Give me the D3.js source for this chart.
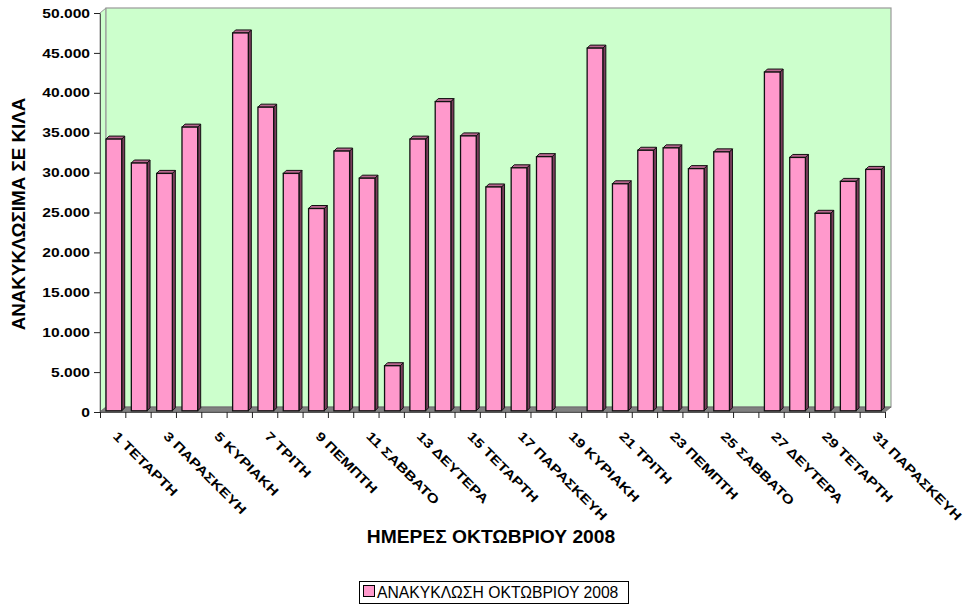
<!DOCTYPE html>
<html>
<head>
<meta charset="utf-8">
<script src="https://cdn.jsdelivr.net/npm/d3@7"></script>
<style>
  html, body { margin: 0; padding: 0; background: #fff; }
  svg { display: block; }
  text { font-family: "Liberation Sans", Arial, sans-serif; }
</style>
</head>
<body>
<svg id="chart" width="970" height="605"></svg>
<script>
// ---- DATA ----
const categories = ["1 ΤΕΤΑΡΤΗ","2 ΠΕΜΠΤΗ","3 ΠΑΡΑΣΚΕΥΗ","4 ΣΑΒΒΑΤΟ","5 ΚΥΡΙΑΚΗ","6 ΔΕΥΤΕΡΑ","7 ΤΡΙΤΗ",
  "8 ΤΕΤΑΡΤΗ","9 ΠΕΜΠΤΗ","10 ΠΑΡΑΣΚΕΥΗ","11 ΣΑΒΒΑΤΟ","12 ΚΥΡΙΑΚΗ","13 ΔΕΥΤΕΡΑ","14 ΤΡΙΤΗ",
  "15 ΤΕΤΑΡΤΗ","16 ΠΕΜΠΤΗ","17 ΠΑΡΑΣΚΕΥΗ","18 ΣΑΒΒΑΤΟ","19 ΚΥΡΙΑΚΗ","20 ΔΕΥΤΕΡΑ","21 ΤΡΙΤΗ",
  "22 ΤΕΤΑΡΤΗ","23 ΠΕΜΠΤΗ","24 ΠΑΡΑΣΚΕΥΗ","25 ΣΑΒΒΑΤΟ","26 ΚΥΡΙΑΚΗ","27 ΔΕΥΤΕΡΑ","28 ΤΡΙΤΗ",
  "29 ΤΕΤΑΡΤΗ","30 ΠΕΜΠΤΗ","31 ΠΑΡΑΣΚΕΥΗ"];
const recycling = [34200, 31200, 29900, 35700, 0, 47500, 38200, 29900, 25500, 32700, 29300, 5800,
  34200, 38900, 34600, 28200, 30600, 32000, 0, 45600, 28600, 32800, 33100, 30500, 32600, 0,
  42600, 31900, 24900, 28900, 30400];
const yTicks = [0, 5000, 10000, 15000, 20000, 25000, 30000, 35000, 40000, 45000, 50000];
const seriesName = "ΑΝΑΚΥΚΛΩΣΗ ΟΚΤΩΒΡΙΟΥ 2008";
const xTitle = "ΗΜΕΡΕΣ ΟΚΤΩΒΡΙΟΥ 2008";
const yTitle = "ΑΝΑΚΥΚΛΩΣΙΜΑ ΣΕ ΚΙΛΑ";

// ---- LAYOUT ----
const svg = d3.select("#chart");
const L = 100, R = 885, T = 13, B = 412;   // front plane
const DX = 6, DY = 5;                       // wall depth offset
const bdx = 3, bdy = 3;                     // bar depth

const x = d3.scaleBand().domain(categories).range([L, R]).padding(0);
const xLin = d3.scaleLinear().domain([0, categories.length]).range([L, R]);
const y = d3.scaleLinear().domain([0, 50000]).range([B, T]);

const locale = d3.formatLocale({decimal: ",", thousands: ".", grouping: [3], currency: ["", "€"]});
const fmt = locale.format(",d");

// walls
const wallColor = "#CCFFCC", wallStroke = "#999999";
svg.append("path")
  .attr("d", `M${L},${B} L${L},${T} L${L+DX},${T-DY} L${L+DX},${B-DY} Z`)
  .attr("fill", wallColor).attr("stroke", wallStroke).attr("stroke-width", 1);
svg.append("rect")
  .attr("x", L + DX).attr("y", T - DY)
  .attr("width", R - L).attr("height", B - T)
  .attr("fill", wallColor).attr("stroke", wallStroke).attr("stroke-width", 1.2);
svg.append("path")
  .attr("d", `M${L},${B} L${R},${B} L${R+DX},${B-DY} L${L+DX},${B-DY} Z`)
  .attr("fill", "#808080").attr("stroke", "#666").attr("stroke-width", 0.8);

// bars
const bw = x.bandwidth() * 0.62;
const bars = svg.append("g");
const data = categories.map((c, i) => ({c, v: recycling[i]})).filter(d => d.v > 0);
const bx = d => x(d.c) + (x.bandwidth() - bw) / 2 + 1.2;
const by0 = y(0) - 1.2;
bars.selectAll(".side").data(data).join("path")
  .attr("d", d => {
    const x1 = bx(d) + bw, t = y(d.v);
    return `M${x1},${by0} L${x1},${t} L${x1+bdx},${t-bdy} L${x1+bdx},${by0-bdy} Z`;
  })
  .attr("fill", "#7A3D5C").attr("stroke", "#111").attr("stroke-width", 1).attr("stroke-linejoin", "round");
bars.selectAll(".top").data(data).join("path")
  .attr("d", d => {
    const x0 = bx(d), t = y(d.v);
    return `M${x0},${t} L${x0+bw},${t} L${x0+bw+bdx},${t-bdy} L${x0+bdx},${t-bdy} Z`;
  })
  .attr("fill", "#B8668F").attr("stroke", "#111").attr("stroke-width", 1).attr("stroke-linejoin", "round");
bars.selectAll(".front").data(data).join("rect")
  .attr("x", d => bx(d)).attr("y", d => y(d.v))
  .attr("width", bw).attr("height", d => by0 - y(d.v))
  .attr("fill", "#FF99CC").attr("stroke", "#111").attr("stroke-width", 1.3);

// y axis
const yAxis = svg.append("g").attr("transform", `translate(${L},0)`)
  .call(d3.axisLeft(y).tickValues(yTicks).tickSize(6).tickSizeOuter(0).tickFormat(fmt));
yAxis.select(".domain").attr("stroke", "#555");
yAxis.selectAll(".tick line").attr("stroke", "#222");
yAxis.selectAll(".tick text")
  .attr("x", null).attr("dy", "0.33em")
  .attr("transform", "translate(-10,0) scale(1.25,1)")
  .attr("text-anchor", "end")
  .style("font-size", "12.5px").style("font-weight", "bold").attr("fill", "#000");

// x axis (ticks at category boundaries)
const xAxis = svg.append("g").attr("transform", `translate(0,${B})`)
  .call(d3.axisBottom(xLin).tickValues(d3.range(categories.length + 1)).tickSize(6).tickSizeOuter(0).tickFormat(""));
xAxis.select(".domain").attr("stroke", "#555");
xAxis.selectAll(".tick line").attr("stroke", "#222");

// x labels (every other category), rotated 45°
svg.append("g").selectAll("text")
  .data(categories.filter((c, i) => i % 2 === 0))
  .join("text")
  .attr("transform", c => `translate(${x(c) + x.bandwidth() / 2 - 0.5},437) rotate(45) scale(1.25,1)`)
  .attr("text-anchor", "start")
  .style("font-size", "12.7px").style("font-weight", "bold")
  .text(c => c);

// axis titles
svg.append("text")
  .attr("transform", `translate(25,214) rotate(-90)`)
  .attr("text-anchor", "middle")
  .style("font-size", "18.8px").style("font-weight", "bold")
  .text(yTitle);
svg.append("text")
  .attr("transform", `translate(491,543) scale(1.04,1)`)
  .attr("text-anchor", "middle")
  .style("font-size", "18.5px").style("font-weight", "bold")
  .text(xTitle);

// legend
const lg = svg.append("g");
lg.append("rect").attr("x", 359.5).attr("y", 581.5).attr("width", 269).attr("height", 22)
  .attr("fill", "#fff").attr("stroke", "#000").attr("stroke-width", 1);
lg.append("rect").attr("x", 363.5).attr("y", 585.5).attr("width", 11).attr("height", 11)
  .attr("fill", "#FF99CC").attr("stroke", "#000").attr("stroke-width", 1);
lg.append("text").attr("x", 377).attr("y", 597.5)
  .style("font-size", "15.7px")
  .text(seriesName);
</script>
</body>
</html>
